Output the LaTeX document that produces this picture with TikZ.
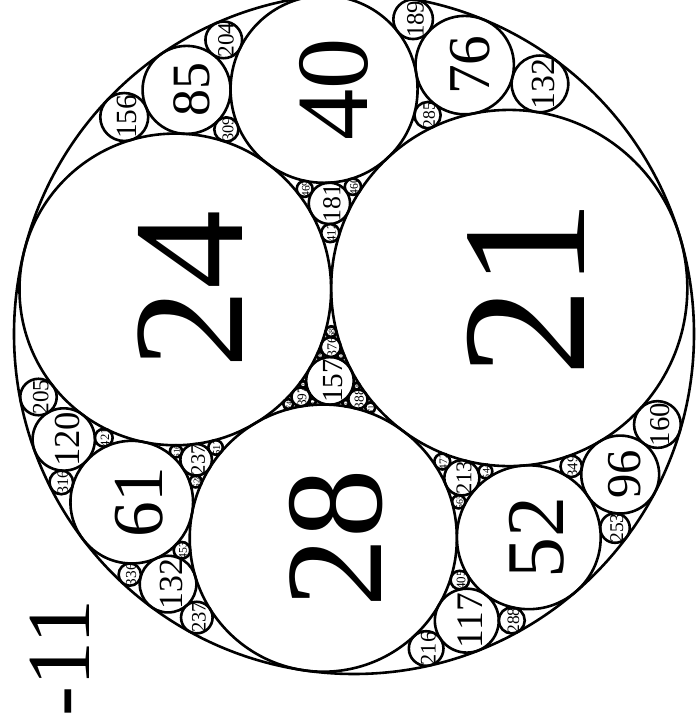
\documentclass[tikz,border=0pt]{standalone}
\usepackage{fontspec}
\setmainfont{Liberation Serif}
\newcount\circno
\def\apSc{3740}
\def\apmaxdepth{3}
\def\apgetc#1,#2,#3\relax#4{%
  \expandafter\def\csname ap#4k\endcsname{#1}%
  \expandafter\def\csname ap#4x\endcsname{#2}%
  \expandafter\def\csname ap#4y\endcsname{#3}}
\newcommand\drawcirc[3]{%
  \global\advance\circno by 1
  \pgfmathsetmacro\apmx{(#2/#1)*(\apSc/55)}%
  \pgfmathsetmacro\apmy{(#3/#1)*(\apSc/55)}%
  \pgfmathsetmacro\apcx{354+0.95882*\apmx-0.28402*\apmy}%
  \pgfmathsetmacro\apcy{393+0.28402*\apmx+0.95882*\apmy}%
  \pgfmathsetmacro\aprr{\apSc/#1}%
  \pgfmathsetmacro\apfs{2.164*(\aprr)^0.85}%
  \ifnum#1>999 \pgfmathsetmacro\apfs{0.8*\apfs}\else
    \ifnum#1>99 \pgfmathsetmacro\apfs{0.91*\apfs}\fi\fi
  \pgfmathsetmacro\aplx{\apcx+0.423*\apfs}%
  \edef\apname{c\the\circno}%
  \draw[circ] (\apcx,\apcy) circle[radius=\aprr];
  \node[lab, font={\fontsize{\apfs pt}{\apfs pt}\selectfont}] (\apname) at (\aplx,\apcy) {#1};
}
\newcommand\apo[5]{%
  \begingroup
  \apgetc#1\relax{A}\apgetc#2\relax{B}\apgetc#3\relax{C}\apgetc#4\relax{D}%
  \edef\apnk{\the\numexpr 2*(\apAk+\apBk+\apCk)-\apDk\relax}%
  \edef\apnx{\the\numexpr 2*(\apAx+\apBx+\apCx)-\apDx\relax}%
  \edef\apny{\the\numexpr 2*(\apAy+\apBy+\apCy)-\apDy\relax}%
  \drawcirc{\apnk}{\apnx}{\apny}%
  \ifnum#5<\apmaxdepth\relax
    \edef\apnext{\noexpand\apo{#1}{#2}{\apnk,\apnx,\apny}{#3}{\the\numexpr#5+1\relax}%
      \noexpand\apo{#1}{#3}{\apnk,\apnx,\apny}{#2}{\the\numexpr#5+1\relax}%
      \noexpand\apo{#2}{#3}{\apnk,\apnx,\apny}{#1}{\the\numexpr#5+1\relax}}%
  \else \let\apnext\relax \fi
  \apnext
  \endgroup}
\begin{document}
\begin{tikzpicture}[x=1pt,y=1pt,
  circ/.style={draw=black,line width=2.6pt},
  lab/.style={inner sep=0pt,rotate=90,anchor=base,text=black}]
\useasboundingbox (0,0) rectangle (696,727);
\clip (0,0) rectangle (696,727);
\draw[circ] (354,393) circle[radius=340];
\drawcirc{21}{50}{0}
\drawcirc{24}{-56}{33}
\drawcirc{28}{-36}{-77}
\apo{-11,0,0}{21,50,0}{24,-56,33}{28,-36,-77}{1}
\apo{-11,0,0}{21,50,0}{28,-36,-77}{24,-56,33}{1}
\apo{-11,0,0}{24,-56,33}{28,-36,-77}{21,50,0}{1}
\apo{21,50,0}{24,-56,33}{28,-36,-77}{-11,0,0}{1}
\node[lab,anchor=center,font={\fontsize{90pt}{90pt}\selectfont}] (outer) at (60,69) {-11};
\end{tikzpicture}
\end{document}
